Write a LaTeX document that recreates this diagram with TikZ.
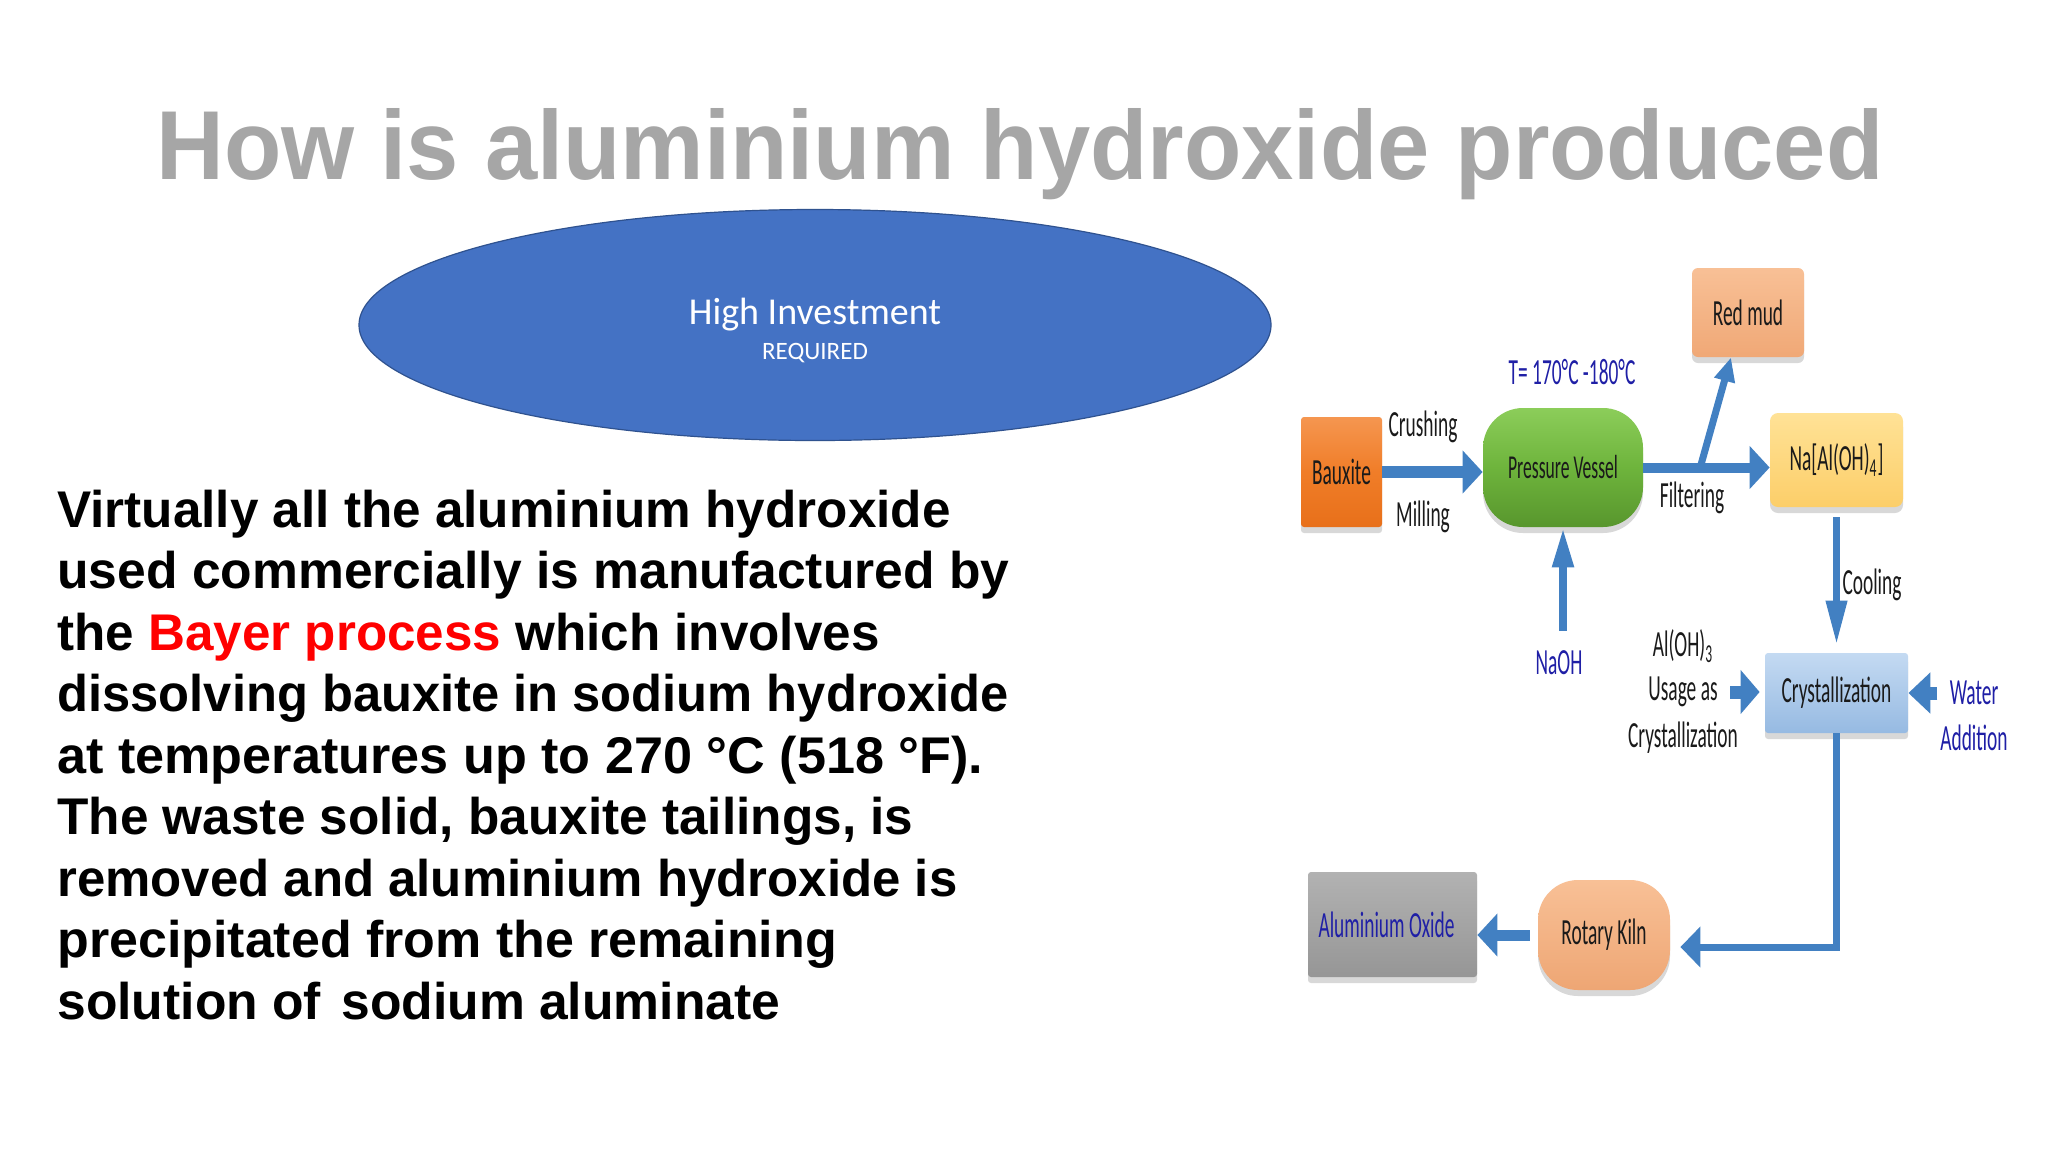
\documentclass[tikz,border=0pt]{standalone}
\usepackage{fontspec}
\setmainfont{Liberation Sans}
\newfontfamily\calfont{Carlito}
\usetikzlibrary{arrows.meta,shadows,shapes.geometric,calc}
\definecolor{titlegray}{HTML}{A6A6A6}
\definecolor{ellblue}{HTML}{4472C4}
\definecolor{ellborder}{HTML}{2F528F}
\definecolor{arrowblue}{HTML}{4280C2}
\definecolor{arrowdark}{HTML}{2E5E96}
\definecolor{lblblue}{HTML}{1F1FA6}
\definecolor{lbltext}{HTML}{1A1A1A}
\definecolor{bayerred}{HTML}{FF0000}
\newcommand{\tall}[1]{\scalebox{1}[1.9]{#1}}
\begin{document}
\begin{tikzpicture}[x=0.5pt,y=-0.5pt,
  body/.style={font=\bfseries\fontsize{25.8}{31}\selectfont, text=black, inner sep=0, anchor=base west},
  lbl/.style={font=\calfont\fontsize{9.7}{11}\selectfont, text=lbltext, inner sep=0},
  bluelbl/.style={lbl, text=lblblue},
  dbox/.style={draw=none, inner sep=0, font=\calfont\fontsize{9.7}{11}\selectfont, text=lbltext,
    drop shadow={shadow xshift=0pt, shadow yshift=-3pt, opacity=0.25, fill=black!60}},
  arr/.style={draw=arrowblue, line cap=butt}
]
\useasboundingbox (0,0) rectangle (2048,1152);
\fill[white] (0,0) rectangle (2048,1152);

% title
\node[anchor=base, font=\bfseries\fontsize{49}{58}\selectfont, text=titlegray, inner sep=0] (title) at (1020,179)
  {\scalebox{0.958}[1]{How is aluminium hydroxide produced}};

% ellipse
\node[ellipse, fill=ellblue, draw=ellborder, line width=0.6pt, minimum width=456pt, minimum height=115.5pt, inner sep=0] (invest) at (815,325) {};
\node[font=\calfont\fontsize{19}{22}\selectfont, text=white, inner sep=0] (hi) at (815,315) {High Investment};
\node[font=\calfont\fontsize{12.5}{14}\selectfont, text=white, inner sep=0] (req) at (815,353) {REQUIRED};

% body text
\node[body] (l1) at (57,527) {\scalebox{0.993}[1]{Virtually all the aluminium hydroxide}};
\node[body] (l2) at (57,588.5) {used commercially is manufactured by};
\node[body] (l3) at (57,650) {\scalebox{0.992}[1]{the \textcolor{bayerred}{Bayer process} which involves}};
\node[body] (l4) at (57,711.5) {\scalebox{0.982}[1]{dissolving bauxite in sodium hydroxide}};
\node[body] (l5) at (57,773) {\scalebox{1.011}[1]{at temperatures up to 270 °C (518 °F).}};
\node[body] (l6) at (57,834.5) {\scalebox{0.995}[1]{The waste solid, bauxite tailings, is}};
\node[body] (l7) at (57,896) {\scalebox{0.987}[1]{removed and aluminium hydroxide is}};
\node[body] (l8) at (57,957.5) {\scalebox{1.007}[1]{precipitated from the remaining}};
\node[body] (l9) at (57,1019) {solution of\hspace{3pt} sodium aluminate};

% boxes
\node[dbox, minimum width=40.5pt, minimum height=55pt, rounded corners=1.5pt, top color={rgb,255:red,245;green,150;blue,80}, bottom color={rgb,255:red,232;green,112;blue,26}, middle color={rgb,255:red,240;green,125;blue,40}] (bauxite) at (1341.5,472) {\tall{Bauxite}};
\node[dbox, minimum width=80pt, minimum height=59.5pt, rounded corners=20pt, top color={rgb,255:red,140;green,205;blue,90}, bottom color={rgb,255:red,88;green,150;blue,45}, middle color={rgb,255:red,110;green,180;blue,60}, font=\calfont\fontsize{8.8}{10}\selectfont] (pv) at (1563,467.5) {\tall{Pressure Vessel}};
\node[dbox, minimum width=56pt, minimum height=44.5pt, rounded corners=3pt, top color={rgb,255:red,248;green,192;blue,150}, bottom color={rgb,255:red,240;green,168;blue,118}] (redmud) at (1748,312.5) {\tall{Red mud}};
\node[dbox, minimum width=66.5pt, minimum height=47pt, rounded corners=4pt, top color={rgb,255:red,255;green,226;blue,150}, bottom color={rgb,255:red,252;green,206;blue,105}] (na) at (1836.5,460) {\tall{Na[Al(OH)\textsubscript{4}]}};
\node[dbox, minimum width=71.5pt, minimum height=40pt, rounded corners=1.5pt, top color={rgb,255:red,196;green,218;blue,242}, bottom color={rgb,255:red,150;green,186;blue,226}] (cryst) at (1836.5,693) {\tall{Crystallization}};
\node[dbox, minimum width=66pt, minimum height=55pt, rounded corners=20pt, top color={rgb,255:red,248;green,192;blue,150}, bottom color={rgb,255:red,238;green,166;blue,116}] (rk) at (1604,935) {\tall{Rotary Kiln}};
\node[dbox, minimum width=84.5pt, minimum height=52.5pt, rounded corners=1.5pt, top color={rgb,255:red,178;green,178;blue,178}, bottom color={rgb,255:red,150;green,150;blue,150}, text=lblblue] (ao) at (1392.5,924.5) {\tall{Aluminium Oxide}\rule{6pt}{0pt}};

% labels
\node[lbl] (crush) at (1423,427) {\tall{Crushing}};
\node[lbl] (mill) at (1423,517) {\tall{Milling}};
\node[bluelbl] (temp) at (1572,372) {\tall{T= 170°C -180°C}};
\node[lbl] (filt) at (1692,498) {\tall{Filtering}};
\node[lbl] (cool) at (1872,585) {\tall{Cooling}};
\node[bluelbl] (naoh) at (1559,663) {\tall{NaOH}};
\node[lbl] (aloh) at (1683,646) {\tall{Al(OH)\textsubscript{3}}};
\node[lbl] (usage) at (1683,692) {\tall{Usage as}};
\node[lbl] (crlbl) at (1683,738) {\tall{Crystallization}};
\node[bluelbl] (water) at (1974,693) {\tall{Water}};
\node[bluelbl] (addn) at (1974,738) {\tall{Addition}};

% arrows
\draw[arr, line width=6pt, -{Triangle[length=10pt,width=21pt]}] (bauxite.east) -- (bauxite.east -| pv.west);
\draw[arr, line width=5pt, -{Triangle[length=10pt,width=21pt]}] (pv.east) -- (pv.east -| na.west);
\coordinate (fork) at ($(pv.east)!0.45!(pv.east -| na.west)$);
\draw[arr, line width=3.5pt, -{Triangle[length=12pt,width=10pt]}] (fork) -- ([xshift=-8.5pt]redmud.south);
\draw[arr, line width=4pt, -{Triangle[length=20pt,width=10pt]}] ($(pv.south |- naoh.north)+(0,-20)$) -- (pv.south);
\draw[arr, line width=3.5pt, -{Triangle[length=22pt,width=10pt]}, shorten <=5pt, shorten >=4pt] (na.south) -- (cryst.north);
\draw[arr, line width=6.5pt, -{Triangle[length=9.5pt,width=21.5pt]}, shorten <=6pt, shorten >=2.5pt] (usage.east) -- (cryst.west |- usage.east);
\draw[arr, line width=6.5pt, -{Triangle[length=11pt,width=20pt]}, shorten <=6pt] (water.west) -- (cryst.east |- water.west);
\draw[arr, line width=3.5pt, -{Triangle[length=10pt,width=20pt]}, shorten >=5pt] (cryst.south) |- ($(rk.east)+(0,12)$);
\draw[arr, line width=5.5pt, -{Triangle[length=10pt,width=21pt]}, shorten <=4pt] (rk.west) -- (rk.west -| ao.east);
\end{tikzpicture}
\end{document}
